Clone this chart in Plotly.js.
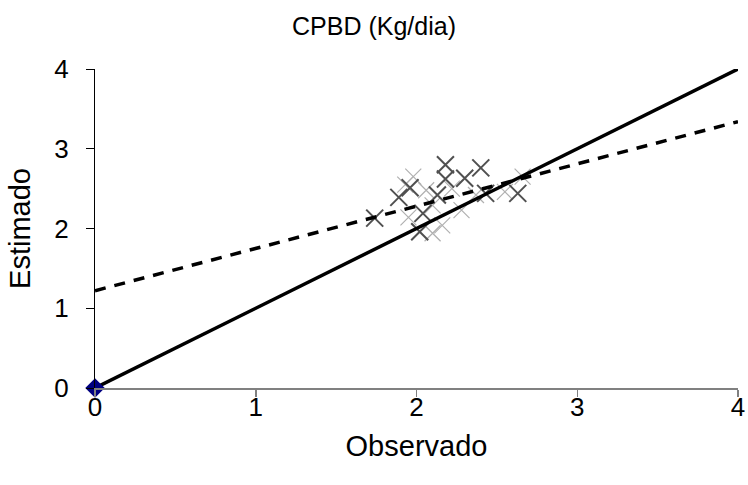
<!DOCTYPE html>
<html>
<head>
<meta charset="utf-8">
<script src="https://cdn.plot.ly/plotly-3.0.1.min.js"></script>
<style>html,body{margin:0;padding:0;background:#fff;}#chart{width:748px;height:485px;}</style>
</head>
<body>
<div id="chart"></div>
<script>
// Observed vs estimated (solid X series)
const obsA = [1.74, 1.89, 1.96, 2.04, 2.02, 2.13, 2.18, 2.18, 2.30, 2.40, 2.43, 2.63];
const estA = [2.13, 2.39, 2.51, 2.19, 1.96, 2.42, 2.80, 2.62, 2.63, 2.76, 2.44, 2.44];
// Second (light, dotted-looking) X series
const obsB = [1.98, 1.95, 2.06, 2.10, 2.16, 2.10, 2.28, 2.55, 2.66, 2.37, 2.22, 1.93];
const estB = [2.65, 2.14, 2.48, 2.29, 2.04, 1.94, 2.23, 2.46, 2.65, 2.42, 2.50, 2.55];
// Origin point
const originX = [0];
const originY = [0];
// Identity line y = x
const idX = [0, 4];
const idY = [0, 4];
// Regression line
const fitX = [0, 4];
const fitY = [1.22, 3.34];
const tickVals = [0, 1, 2, 3, 4];
const tickText = ['0', '1', '2', '3', '4'];

const traces = [
  {x: obsB, y: estB, mode: 'markers', type: 'scatter',
   marker: {symbol: 'x-thin-open', size: 16, color: '#b0b0b0', line: {color: '#b0b0b0', width: 1.2}}},
  {x: obsA, y: estA, mode: 'markers', type: 'scatter',
   marker: {symbol: 'x-thin-open', size: 17, color: '#505050', line: {color: '#505050', width: 2}}},
  {x: fitX, y: fitY, mode: 'lines', type: 'scatter',
   line: {color: '#000000', width: 3.5, dash: '11px,9px'}},
  {x: idX, y: idY, mode: 'lines', type: 'scatter',
   line: {color: '#000000', width: 3.5}},
  {x: originX, y: originY, mode: 'markers', type: 'scatter',
   marker: {symbol: 'diamond', size: 15, color: '#000080', line: {width: 0}}, cliponaxis: false}
];

const layout = {
  width: 748, height: 485,
  margin: {l: 95, r: 10, t: 69, b: 97},
  paper_bgcolor: '#ffffff', plot_bgcolor: '#ffffff',
  showlegend: false,
  font: {family: 'Liberation Sans, Arial, sans-serif', color: '#000'},
  title: {text: 'CPBD (Kg/dia)', font: {size: 25, color: '#000'}, x: 0.5, xanchor: 'center', y: 0.945, yanchor: 'middle'},
  xaxis: {
    range: [0, 4], tickvals: tickVals, ticktext: tickText,
    showgrid: false, zeroline: false,
    showline: true, linecolor: '#808080', linewidth: 2,
    ticks: 'outside', ticklen: 7, tickcolor: '#808080', tickwidth: 1.5,
    ticklabelstandoff: -12,
    tickfont: {size: 26},
    title: {text: 'Observado', font: {size: 29}, standoff: 14}
  },
  yaxis: {
    range: [0, 4], tickvals: tickVals, ticktext: tickText,
    showgrid: false, zeroline: false,
    showline: true, linecolor: '#000000', linewidth: 1,
    ticks: 'outside', ticklen: 8, tickcolor: '#000000', tickwidth: 1,
    ticklabelstandoff: 12,
    tickfont: {size: 26},
    title: {text: 'Estimado', font: {size: 29}, standoff: 15}
  }
};

Plotly.newPlot('chart', traces, layout, {displayModeBar: false, staticPlot: true});
</script>
</body>
</html>
